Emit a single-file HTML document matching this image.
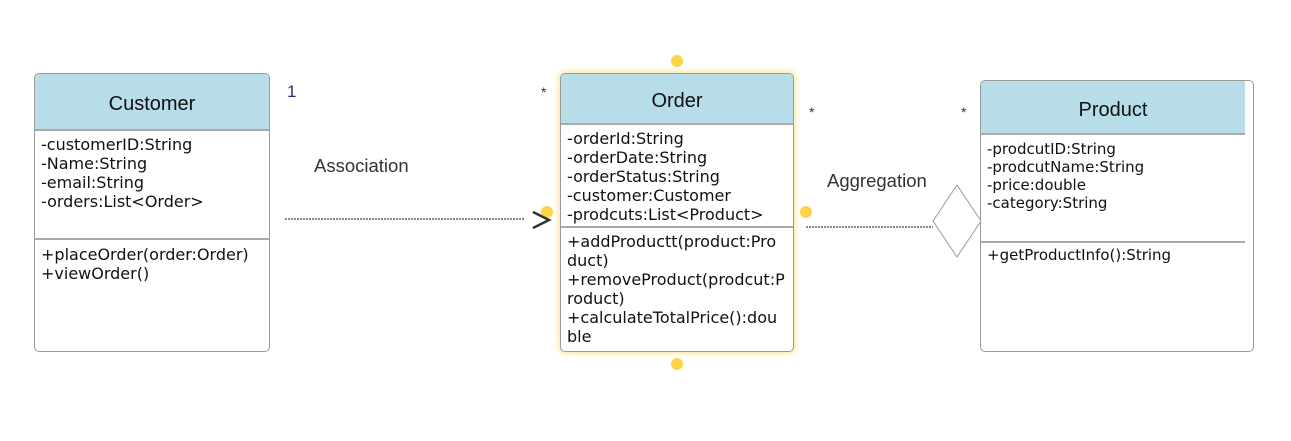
<!DOCTYPE html>
<html><head><style>
body{margin:0;width:1291px;height:441px;background:#fff;position:relative;overflow:hidden;font-family:"DejaVu Sans","Liberation Sans",sans-serif;}
.a{position:absolute}
.box{position:absolute;border:1px solid #999;border-radius:5px;background:#fff;overflow:hidden;box-sizing:border-box}
.hd{position:absolute;left:0;right:0;top:0;background:#b7dde8;border-bottom:2px solid #aaa;font-family:"Liberation Sans",sans-serif;font-size:20px;color:#111;display:flex;align-items:center;justify-content:center;box-sizing:border-box;padding-top:6px}
.tx{position:absolute;font-size:16px;line-height:19px;color:#111;white-space:pre}
.sep{position:absolute;left:0;right:0;height:0;border-top:2px solid #aaa}
.dot{position:absolute;width:12px;height:12px;border-radius:50%;background:#fdd447}
.lab{position:absolute;font-family:"Liberation Sans",sans-serif;color:#333}
</style></head><body>
<div class="box" style="left:34px;top:73px;width:236px;height:279px">
 <div class="hd" style="height:57px">Customer</div>
 <div class="tx" style="left:6px;top:61px">-customerID:String
-Name:String
-email:String
-orders:List&lt;Order&gt;</div>
 <div class="sep" style="top:164px"></div>
 <div class="tx" style="left:6px;top:171px">+placeOrder(order:Order)
+viewOrder()</div>
</div>
<div class="box" style="left:560px;top:73px;width:234px;height:279px;box-shadow:0 0 6px 2px #fde9a6">
 <div class="hd" style="height:51px">Order</div>
 <div class="tx" style="left:6px;top:55px">-orderId:String
-orderDate:String
-orderStatus:String
-customer:Customer
-prodcuts:List&lt;Product&gt;</div>
 <div class="sep" style="top:152px"></div>
 <div class="tx" style="left:6px;top:158px">+addProductt(product:Pro
duct)
+removeProduct(prodcut:P
roduct)
+calculateTotalPrice():dou
ble</div>
</div>
<div class="box" style="left:980px;top:80px;width:274px;height:272px">
 <div class="hd" style="height:54px;right:8px">Product</div>
 <div class="tx" style="left:6px;top:59px;font-size:15px;line-height:18px">-prodcutID:String
-prodcutName:String
-price:double
-category:String</div>
 <div class="sep" style="top:160px;right:8px"></div>
 <div class="tx" style="left:6px;top:165px;font-size:15px;line-height:18px">+getProductInfo():String</div>
</div>
<div class="dot" style="left:671px;top:55px"></div>
<div class="dot" style="left:671px;top:358px"></div>
<div class="dot" style="left:541px;top:206px"></div>
<div class="dot" style="left:800px;top:206px"></div>
<svg class="a" style="left:0;top:0" width="1291" height="441">
 <line x1="285" y1="219" x2="525" y2="219" stroke="#888" stroke-width="2" stroke-dasharray="2,1"/>
 <polyline points="533,212 549,220 533,228" fill="none" stroke="#333" stroke-width="2.5"/>
 <line x1="806" y1="227" x2="933" y2="227" stroke="#888" stroke-width="2" stroke-dasharray="2,1"/>
 <polygon points="957,185 981,221 957,257 933,221" fill="#fff" stroke="#999" stroke-width="1"/>
</svg>
<div class="lab" style="left:287px;top:82px;font-size:17px;color:#2a2a70">1</div>
<div class="lab" style="left:541px;top:84px;font-size:14px">*</div>
<div class="lab" style="left:809px;top:104px;font-size:14px">*</div>
<div class="lab" style="left:961px;top:104px;font-size:14px">*</div>
<div class="lab" style="left:314px;top:155px;font-size:18.5px">Association</div>
<div class="lab" style="left:827px;top:170px;font-size:18.5px">Aggregation</div>
</body></html>
